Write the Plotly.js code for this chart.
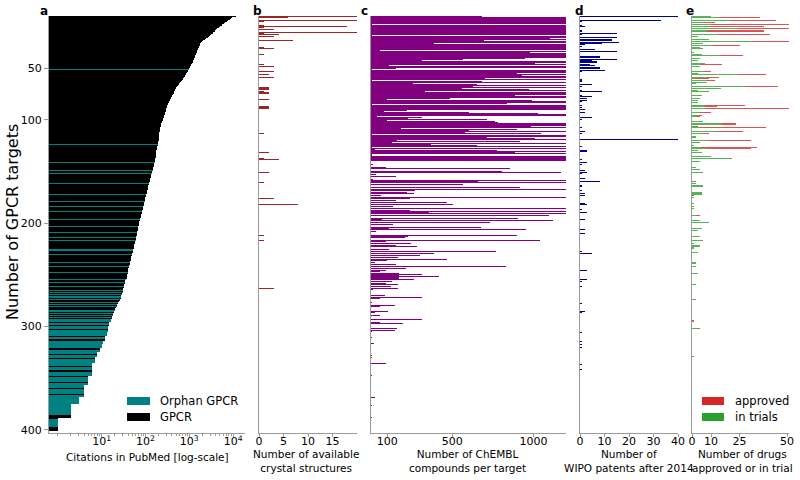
<!DOCTYPE html>
<html><head><meta charset="utf-8">
<script src="https://cdn.plot.ly/plotly-3.0.1.min.js"></script>
<style>html,body{margin:0;padding:0;background:#fff}#chart{width:800px;height:480px}</style>
</head><body><div id="chart"></div>
<script>
// ---------- DATA ----------
// Panel a: PubMed citations per GPCR target, in rank order (0 = most cited)
const citations = [
11700,9500,9000,8300,7800,7100,6600,6100,5700,5500,5100,4700,4250,4000,3800,3560,3400,3200,3000,2850,
2700,2450,2250,2090,1950,1850,1780,1750,1720,1690,1650,1600,1560,1520,1490,1460,1430,1400,1380,1350,
1320,1290,1250,1220,1190,1160,1120,1090,1060,1030,1000,975,950,920,890,860,830,800,780,760,
730,700,680,650,620,590,570,550,530,510,495,480,470,455,440,425,410,400,390,380,
370,360,350,340,330,322,315,310,305,300,296,293,288,283,278,274,270,265,260,255,
250,245,240,235,230,226,222,218,215,213,212,210,208,206,205,204,203,203,202,200,
199,198,196,195,193,191,188,186,183,180,178,177,176,175,173,172,170,169,167,165,
163,161,159,157,155,153,151,149,147,145,143,141,139,137,135,133,131,129,128,126,
124,122,120,119,117,116,114,113,110,109,107,106,104,103,101,100,99,98,97,96,
95,94,92,91,90,89,88,86,85,84,83,82,80,79,78,77,75,74,73,72,
71,71,70,69,68,68,67,66,65,65,64,63,63,62,62,61,60,60,59,58,
57,56,56,55,54,53,52,52,51,50,50,49,48,48,47,46,46,45,45,44,
44,43,43,42,41,41,40,40,39,39,38,38,37,37,36,35,35,34,34,33,
33,32,32,31,31,31,30,30,29,29,28,28,27,27,26,26,25,24,24,23,
23,22,21,20,20,19,19,18,18,18,17,17,17,16,16,16,15,15,15,15,
14,14,14,14,14,14,13,13,13,13,12,12,12,12,11,11,11,10,10,10,
10,9,9,9,9,8,8,8,8,8,7,7,7,7,7,7,6,6,6,6,
6,6,6,6,6,6,6,6,5,5,5,5,5,5,5,5,5,4,4,4,
4,4,4,4,4,4,4,4,4,3,3,3,3,3,3,2,2,2,2,2,
2,2,2,2,2,2,2,2,2,1,1,1,1,1,1,1,1,1,1,1,1,1
];
// Ranks of orphan GPCRs
const orphanRanks = [51,124,141,149,152,162,172,179,184,189,196,203,209,214,217,225,226,230,238,242,
248,254,257,261,265,267,269,271,272,274,277,279,281,284,285,287,289,
291,293,294,295,297,298,300,301,302,304,305,306,307,308,309,311,312,314,315,316,317,318,319,320,
323,324,325,326,328,329,330,332,333,334,335,336,337,338,340,341,342,344,345,346,347,349,350,351,
352,353,355,356,357,358,359,361,362,363,364,365,367,368,369,370,371,372,373,374,375,376,377,378,
379,380,381,382,383,384,385,390,391,392,393,394,395,396,397];

// Panel b: available crystal structures (rank, count)
const crystalRanks  = [0,1,4,5,9,10,11,13,15,16,17,19,23,30,31,37,46,48,53,56,59,69,70,71,73,74,80,87,88,89,113,132,137,138,151,161,176,182,212,217,263];
const crystalCounts = [25,6,25,1,1,18,1,3,25,1,4,3,7,1,3,1,1,3,3,2,3,2,2,2,1,2,2,2,2,2,1,2,1,4,2,1,3,8,1,1,3];

// Panel c: ChEMBL compounds per target, in rank order
const chemblCompounds = [
683,1300,1300,1300,1300,1300,1300,1300,5,1300,1300,1300,1300,1300,1300,1300,1300,1300,5,1300,
1300,1103,1300,697,1300,1300,390,1300,1300,1300,1300,1300,1300,57,1300,976,1300,1300,1300,1300,
1300,950,568,314,1300,1012,1300,113,1300,1300,156,5,1300,1300,1300,898,1300,929,1300,1300,
703,1300,5,683,1300,260,652,1300,630,1300,560,970,1300,334,1300,1300,888,1300,1300,488,
100,990,1300,1300,837,5,1300,1300,1300,1300,1300,221,82,601,1030,1300,1300,37,314,228,
713,100,765,784,1300,1300,982,1300,184,898,601,1300,580,1049,5,1300,1300,713,1010,1300,
160,918,130,1300,369,652,1300,5,1300,26,777,1300,888,1300,5,1300,1300,1300,1300,1300,
0,0,0,10,0,0,94,857,0,0,806,1170,0,31,0,154,0,0,10,1300,
660,1300,0,568,0,918,0,1300,273,0,221,266,0,62,0,1300,242,0,156,0,
467,0,504,0,138,0,1300,0,242,1300,354,1300,0,1098,0,907,66,1120,0,734,
0,136,0,0,679,113,956,0,33,0,0,0,898,228,208,0,0,1038,94,0,
246,0,156,283,0,113,0,771,0,390,0,299,0,164,0,467,100,0,26,0,
156,0,830,0,214,0,94,57,0,170,314,170,420,170,266,0,130,0,94,164,
0,125,0,164,10,0,0,0,0,0,88,0,314,55,0,0,0,5,0,0,
145,57,0,0,0,104,26,0,0,55,0,0,0,314,0,0,55,197,0,0,
0,0,160,0,145,5,0,0,0,0,0,5,0,0,0,0,20,0,0,0,
0,0,0,0,0,0,0,0,5,0,5,0,0,0,0,0,94,0,0,0,
0,0,0,0,0,0,0,5,0,0,0,0,0,0,0,0,0,0,0,0,
0,0,0,0,0,0,0,0,0,26,0,0,0,0,0,0,5,0,0,0,
0,0,0,0,0,0,0,0,5,0,0,0,0,0,0,0,0,0,0,0,0,0
];

// Panel d: WIPO patents after 2014 (rank, count)
const patentRanks  = [0,4,5,9,10,14,16,17,20,22,23,25,26,27,29,32,34,39,40,42,43,44,46,47,49,50,52,53,61,62,63,66,68,72,73,76,77,79,81,82,86,88,90,93,98,100,107,111,113,119,126,130,131,138,141,143,149,151,152,157,160,164,168,171,173,181,182,187,190,196,206,210,227,229,246,254,256,261,278,285,286,306,314,317,320,337,342];
const patentCounts = [41,33,1,1,2,1,15,1,15,13,13,16,9,2,1,6,15,8,8,15,5,7,4,6,8,8,10,1,1,1,1,5,1,1,9,1,5,3,3,1,1,1,2,2,5,1,1,2,1,41,1,3,3,1,3,1,2,3,1,2,8,1,1,2,2,2,3,1,3,2,2,2,1,5,3,3,1,1,1,2,1,1,1,1,1,1,1];

// Panel e: drugs approved or in trials (rank, in trials, approved)
const drugRanks     = [0,1,4,6,8,10,12,14,17,19,22,24,26,28,30,31,35,37,38,41,43,45,46,48,53,55,56,59,60,62,64,65,68,70,72,73,76,79,81,83,86,87,89,93,96,97,102,104,106,107,111,113,116,117,120,122,125,127,128,130,132,135,137,140,146,148,151,160,162,164,170,171,172,173,175,181,184,186,193,197,199,205,207,213,217,220,222,223,224,228,238,239,242,249,259,274,294,295,302,329];
const drugsInTrials = [10,14,20,5,10,9,24,8,13,3,9,31,6,10,4,6,1,5,14,4,3,7,4,4,6,3,24,8,1,8,8,2,28,15,3,8,5,4,3,3,7,7,7,4,3,2,6,16,1,4,12,5,2,2,8,3,1,4,9,3,5,10,20,4,2,4,6,1,2,6,5,5,5,0,1,1,1,1,2,4,9,5,3,4,5,1,4,4,1,3,2,2,2,3,2,2,0,0,3,1];
const drugsApproved = [0,22,24,7,42,29,28,30,28,0,0,21,0,15,0,0,0,0,13,0,0,0,12,0,4,0,15,6,8,4,0,0,17,0,0,1,0,0,0,0,21,6,45,6,2,2,0,7,2,35,15,4,0,0,23,1,0,30,22,0,0,0,1,0,0,0,0,1,0,0,0,0,0,1,0,0,0,0,2,0,0,0,0,0,1,0,0,0,0,0,0,0,0,0,0,0,1,1,1,0];

// Tick labels
const yTicks = [50, 100, 200, 300, 400];
const citeTicks = [10, 100, 1000, 10000];
const citeTickText = ['10<sup>1</sup>', '10<sup>2</sup>', '10<sup>3</sup>', '10<sup>4</sup>'];
const citeMinorTicks = [1,2,3,4,5,6,7,8,9,20,30,40,50,60,70,80,90,200,300,400,500,600,700,800,900,2000,3000,4000,5000,6000,7000,8000,9000];
const crystalTicks = [0, 5, 10, 15];
const chemblTicks = [100, 500, 1000];
const patentTicks = [0, 10, 20, 30, 40];
const drugTicks = [0, 10, 25, 50];

// ---------- BUILD ----------
const W = 800, H = 480;
const px = x => x / W, py = y => 1 - y / H;
const spine = '#9b9b9b';
const yRange = [403, -0.5];
const yDom = [py(433), py(16)];
const FONT = 'DejaVu Sans, sans-serif';
const TICK = 11, TITLE = 10.5, LEG = 11.5;

const ranks = citations.map((_, i) => i);
const orphanSet = new Set(orphanRanks);
const gpcrOnly = ranks.filter(r => !orphanSet.has(r));

const hb = (x, y, color, xa, ya, name) => ({
  type: 'bar', orientation: 'h', x, y, width: 1, name,
  marker: {color, line: {width: 0}}, xaxis: xa, yaxis: ya,
  showlegend: false, hoverinfo: 'skip'
});

const traces = [
  hb(gpcrOnly.map(r => citations[r]), gpcrOnly, '#000000', 'x', 'y', 'GPCR'),
  hb(orphanRanks.map(r => citations[r]), orphanRanks, '#008080', 'x', 'y', 'Orphan GPCR'),
  hb(crystalCounts, crystalRanks, 'rgba(139,0,0,0.85)', 'x2', 'y2', 'crystal'),
  hb(chemblCompounds, ranks, '#800080', 'x3', 'y3', 'ChEMBL'),
  hb(patentCounts, patentRanks, '#00008b', 'x4', 'y4', 'patents'),
  hb(drugsInTrials, drugRanks, 'rgba(44,160,44,0.8)', 'x5', 'y5', 'in trials'),
  hb(drugsApproved, drugRanks, 'rgba(214,39,40,0.8)', 'x5', 'y5', 'approved')
];

const xBase = (dom, anchor, extra) => Object.assign({
  domain: dom, anchor, showline: true, linecolor: spine, linewidth: 1,
  ticks: 'outside', ticklen: 3, tickcolor: spine, tickwidth: 1, ticklabelstandoff: -5,
  showgrid: false, zeroline: false, tickfont: {size: TICK, color: '#000'}, fixedrange: true
}, extra);
const yBase = (anchor, extra) => Object.assign({
  domain: yDom, anchor, range: yRange, showline: true, linecolor: spine, linewidth: 1,
  showgrid: false, zeroline: false, showticklabels: false, ticks: '', fixedrange: true
}, extra);

const layout = {
  width: W, height: H, margin: {l: 0, r: 0, t: 0, b: 0},
  paper_bgcolor: '#fff', plot_bgcolor: 'rgba(0,0,0,0)',
  font: {family: FONT, size: TICK, color: '#000'},
  barmode: 'stack', bargap: 0, showlegend: false,
  xaxis: xBase([px(49), px(245)], 'y', {type: 'log', range: [-0.2, 4.27],
    tickmode: 'array', tickvals: citeTicks, ticktext: citeTickText,
    minor: {tickmode: 'array', tickvals: citeMinorTicks, ticks: 'outside', ticklen: 2, tickcolor: spine, showgrid: false}}),
  yaxis: yBase('x', {showticklabels: true, ticks: 'outside', ticklen: 4, tickcolor: spine,
    tickmode: 'array', tickvals: yTicks, tickfont: {size: TICK, color: '#000'}}),
  xaxis2: xBase([px(259), px(357)], 'y2', {range: [0, 20], tickmode: 'array', tickvals: crystalTicks}),
  yaxis2: yBase('x2'),
  xaxis3: xBase([px(371), px(566)], 'y3', {range: [0, 1200], tickmode: 'array', tickvals: chemblTicks}),
  yaxis3: yBase('x3'),
  xaxis4: xBase([px(580), px(678)], 'y4', {range: [0, 40], tickmode: 'array', tickvals: patentTicks}),
  yaxis4: yBase('x4'),
  xaxis5: xBase([px(692), px(789)], 'y5', {range: [0, 51], tickmode: 'array', tickvals: drugTicks}),
  yaxis5: yBase('x5'),
  shapes: [
    {type: 'rect', xref: 'paper', yref: 'paper', x0: px(127), x1: px(150), y0: py(405), y1: py(397), fillcolor: '#008080', line: {width: 0}},
    {type: 'rect', xref: 'paper', yref: 'paper', x0: px(127), x1: px(150), y0: py(421), y1: py(413), fillcolor: '#000000', line: {width: 0}},
    {type: 'rect', xref: 'paper', yref: 'paper', x0: px(702), x1: px(724), y0: py(405), y1: py(397), fillcolor: '#d62728', line: {width: 0}},
    {type: 'rect', xref: 'paper', yref: 'paper', x0: px(702), x1: px(724), y0: py(421), y1: py(413), fillcolor: '#2ca02c', line: {width: 0}}
  ],
  annotations: []
};

const ann = (x, y, text, opts) => Object.assign({
  xref: 'paper', yref: 'paper', x: px(x), y: py(y), text, showarrow: false,
  xanchor: 'center', yanchor: 'middle', font: {family: FONT, size: TITLE, color: '#000'}
}, opts || {});
const legFont = {family: FONT, size: LEG, color: '#000'};

layout.annotations.push(
  ann(12, 222, 'Number of GPCR targets', {textangle: -90, font: {family: FONT, size: 16, color: '#000'}}),
  ann(147, 457, 'Citations in PubMed [log-scale]'),
  ann(306, 461, 'Number of available<br>crystal structures'),
  ann(467, 461, 'Number of ChEMBL<br>compounds per target'),
  ann(629, 461, 'Number of<br>WIPO patents after 2014'),
  ann(742, 461, 'Number of drugs<br>approved or in trial'),
  ann(158, 401, 'Orphan GPCR', {xanchor: 'left', font: legFont}),
  ann(158, 417, 'GPCR', {xanchor: 'left', font: legFont}),
  ann(733, 401, 'approved', {xanchor: 'left', font: legFont}),
  ann(733, 417, 'in trials', {xanchor: 'left', font: legFont})
);
[['a', 44], ['b', 257], ['c', 364], ['d', 579], ['e', 690]].forEach(([t, x]) => {
  layout.annotations.push(ann(x, 11, '<b>' + t + '</b>', {font: {family: FONT, size: 12, color: '#000'}}));
});

Plotly.newPlot('chart', traces, layout, {displayModeBar: false, staticPlot: true});
</script>
</body></html>
